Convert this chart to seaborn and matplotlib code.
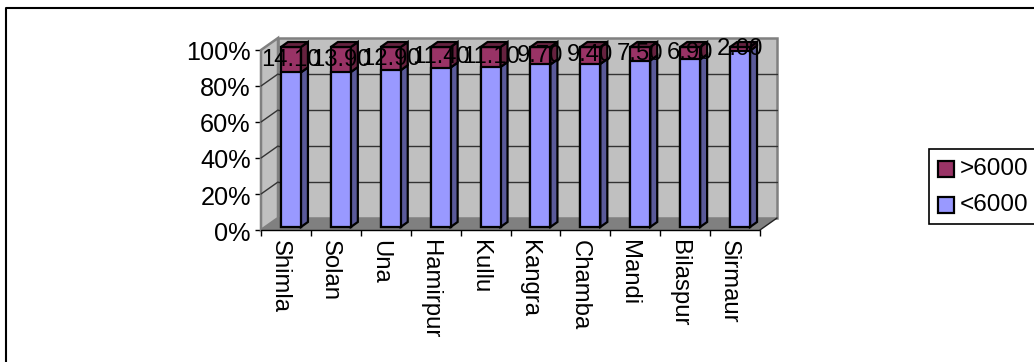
import matplotlib
matplotlib.use("Agg")
import matplotlib.pyplot as plt
from matplotlib.patches import Polygon, Rectangle
from matplotlib.transforms import ScaledTranslation
import pandas as pd
import seaborn as sns

districts = ["Shimla", "Solan", "Una", "Hamirpur", "Kullu",
             "Kangra", "Chamba", "Mandi", "Bilaspur", "Sirmaur"]
above_6000 = [14.10, 13.90, 12.90, 11.40, 11.10, 9.70, 9.40, 7.50, 6.90, 2.00]
below_6000 = [85.90, 86.10, 87.10, 88.60, 88.90, 90.30, 90.60, 92.50, 93.10, 98.00]
percent_ticks = [0, 20, 40, 60, 80, 100]

PURPLE, PURPLE_DARK = "#993366", "#66223F"
LAVENDER, LAVENDER_DARK = "#9999FF", "#5A5A99"
WALL, FLOOR = "#C0C0C0", "#808080"

W, H, DPI = 1034, 362, 100
FONT = 17.2
FONT_TICK = 18.2
FONT_LEGEND = 17.5

sns.set_theme(style="white")
plt.rcParams["font.family"] = ["Liberation Sans", "DejaVu Sans"]

fig = plt.figure(figsize=(W / DPI, H / DPI), dpi=DPI, facecolor="white")
# Front plane of the 3-D box, in pixels: x 261..760, y 50..230 from the top
ax = fig.add_axes([261 / W, 1 - 230 / H, 499 / W, 180 / H])

df = pd.DataFrame({"district": districts, "below": below_6000, "above": above_6000})
df["total"] = df["below"] + df["above"]

# Stacked columns: the full height in purple, the lower part over it in lavender
sns.barplot(data=df, x="district", y="total", color=PURPLE, saturation=1,
            width=0.4, edgecolor="black", linewidth=1.6, ax=ax, zorder=5)
n_top = len(ax.patches)
sns.barplot(data=df, x="district", y="below", color=LAVENDER, saturation=1,
            width=0.4, edgecolor="black", linewidth=1.6, ax=ax, zorder=6)
top_bars = list(ax.patches[:n_top])
low_bars = list(ax.patches[n_top:])

ax.set_xlim(-0.5, len(districts) - 0.5)
ax.set_ylim(0, 100)
ax.set_xlabel("")
ax.set_ylabel("")
ax.patch.set_alpha(0)
for s in ax.spines.values():
    s.set_visible(False)


def px_offset(dx, dy):
    """Shift by dx, dy pixels (dy upward) away from data coordinates."""
    return ax.transData + ScaledTranslation(dx / DPI, dy / DPI, fig.dpi_scale_trans)


# Offsets of the back wall and of the column plane relative to the front plane
BACK = (17, 12)
COL = (5, 3)
DEPTH = (7, 5)
x0, x1 = -0.5, len(districts) - 0.5
trans_back = px_offset(*BACK)


def skew_quad(xa, ya, xb, yb, color, z, edge="none", lw=0):
    """Parallelogram joining a front-plane edge to the same edge on the back wall."""
    pa = ax.transData.transform((xa, ya))
    pb = ax.transData.transform((xb, yb))
    pts = [pa, pb, pb + BACK, pa + BACK]
    ax.add_patch(Polygon(pts, closed=True, transform=None, facecolor=color,
                         edgecolor=edge, linewidth=lw, zorder=z, clip_on=False))


# Back wall, side wall and floor
ax.add_patch(Rectangle((x0, 0), x1 - x0, 100, transform=trans_back, facecolor=WALL,
                       edgecolor="#808080", linewidth=1.8, zorder=1, clip_on=False))
skew_quad(x0, 0, x0, 100, WALL, 1, edge="#808080", lw=1.8)
skew_quad(x0, 0, x1, 0, FLOOR, 2)

# Gridlines run along the side wall and across the back wall
for v in percent_ticks[1:]:
    if v < 100:
        ax.plot([x0, x1], [v, v], transform=trans_back, color="#333333", lw=1,
                zorder=3, clip_on=False)
        p = ax.transData.transform((x0, v))
        ax.plot([p[0], p[0] + BACK[0]], [p[1], p[1] + BACK[1]], transform=None,
                color="#333333", lw=1, zorder=3, clip_on=False)

# Front edges of the box
ax.plot([x0, x1], [0, 0], color="black", lw=1, zorder=4, clip_on=False)
pr = ax.transData.transform((x1, 0))
ax.plot([pr[0], pr[0] + BACK[0]], [pr[1], pr[1] + BACK[1]], transform=None,
        color="#222222", lw=1, zorder=4, clip_on=False)

# Depth faces of each column, then move the front faces onto the column plane
trans_col = px_offset(*COL)
for top, low in zip(top_bars, low_bars):
    bx, bw = low.get_x(), low.get_width()
    y_low, y_top = low.get_height(), top.get_height()
    segments = ((0, y_low, LAVENDER_DARK), (y_low, y_top, PURPLE_DARK))
    for y_a, y_b, side in segments:
        pb = ax.transData.transform((bx + bw, y_a)) + COL
        pt = ax.transData.transform((bx + bw, y_b)) + COL
        ax.add_patch(Polygon([pb, pt, pt + DEPTH, pb + DEPTH], transform=None,
                             facecolor=side, edgecolor="black", linewidth=1.6,
                             zorder=5, clip_on=False))
    # Cap of the column
    pl = ax.transData.transform((bx, y_top)) + COL
    pr = ax.transData.transform((bx + bw, y_top)) + COL
    ax.add_patch(Polygon([pl, pr, pr + DEPTH, pl + DEPTH], transform=None,
                         facecolor=PURPLE_DARK, edgecolor="black", linewidth=1.6,
                         zorder=5, clip_on=False))
    top.set_transform(trans_col)
    low.set_transform(trans_col)
    top.set_clip_on(False)
    low.set_clip_on(False)

# Value labels sit at the middle of the upper segment and overlap their neighbours
for i, (low_v, top_v) in enumerate(zip(below_6000, above_6000)):
    ax.text(i, low_v + top_v / 2, f"{top_v:.2f}", transform=trans_col, ha="center",
            va="center", fontsize=FONT, color="black", zorder=8, clip_on=False)

ax.set_yticks(percent_ticks, [f"{v}%" for v in percent_ticks], fontsize=FONT_TICK,
              color="black")
ax.set_xticks([i - 0.5 for i in range(len(districts) + 1)], [""] * (len(districts) + 1))
ax.set_xticks(range(len(districts)), districts, minor=True, rotation=270, fontsize=FONT,
              color="black", ha="center", va="top")
ax.tick_params(axis="y", which="major", left=True, length=4.3, width=1, pad=3, color="black")
ax.tick_params(axis="x", which="major", bottom=True, length=4, width=1, color="black")
ax.tick_params(axis="x", which="minor", bottom=False, length=0, pad=7)

# District names sit a little left of the category centres
name_shift = ScaledTranslation(-6 / DPI, 0, fig.dpi_scale_trans)
for tick_label in ax.get_xticklabels(minor=True):
    tick_label.set_transform(tick_label.get_transform() + name_shift)
# The percent labels sit a touch lower than their ticks
pct_shift = ScaledTranslation(0, -1 / DPI, fig.dpi_scale_trans)
for tick_label in ax.get_yticklabels():
    tick_label.set_transform(tick_label.get_transform() + pct_shift)

# Figure frame: only the top and left edges lie on the canvas
frame = fig.add_axes([0, 0, 1, 1], zorder=-1)
frame.set_xlim(0, W)
frame.set_ylim(H, 0)
frame.axis("off")
frame.plot([6, 6, W], [H, 8, 8], color="black", lw=1.5)

# Legend box, built by hand so its swatches and reversed order stay in place
leg = fig.add_axes([0, 0, 1, 1], zorder=3)
leg.set_xlim(0, W)
leg.set_ylim(H, 0)
leg.axis("off")
leg.patch.set_alpha(0)
leg.add_patch(Rectangle((929, 149), 110, 75, facecolor="white", edgecolor="black",
                        linewidth=1.2, clip_on=True))
for label, color, yc in ((">6000", PURPLE, 169), ("<6000", LAVENDER, 205)):
    leg.add_patch(Rectangle((938, yc - 8), 15.5, 15.5, facecolor=color, edgecolor="black",
                            linewidth=1.6))
    leg.text(960, yc, label, fontsize=FONT_LEGEND, va="center", ha="left", color="black")

fig.savefig("out.png", dpi=DPI)
